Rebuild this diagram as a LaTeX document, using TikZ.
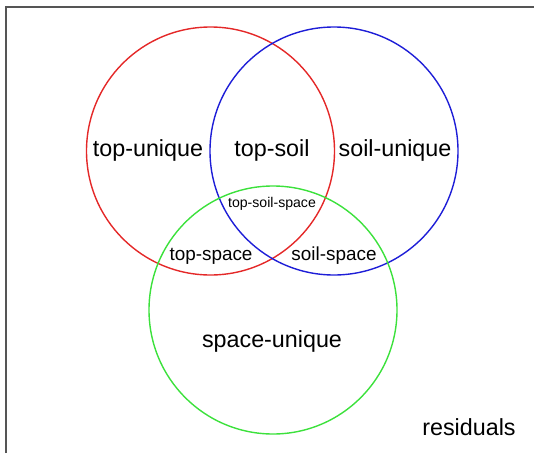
\documentclass[tikz,border=0pt]{standalone}
\usepackage{fontspec}
\setmainfont{Liberation Sans}
\usetikzlibrary{positioning, shapes}
\definecolor{setred}{RGB}{228,40,40}
\definecolor{setblue}{RGB}{30,30,215}
\definecolor{setgreen}{RGB}{60,225,60}
\definecolor{framegray}{RGB}{85,85,85}
\tikzstyle{setcircle} = [circle, minimum size=248pt, inner sep=0pt, line width=1.4pt]
\tikzstyle{biglabel} = [inner sep=0pt, font=\fontsize{23.3}{28}\selectfont]
\tikzstyle{midlabel} = [inner sep=0pt, font=\fontsize{18.9}{23}\selectfont]
\tikzstyle{smalllabel} = [inner sep=0pt, font=\fontsize{14.1}{17}\selectfont]
\begin{document}
\begin{tikzpicture}[x=1pt, y=-1pt]
        \useasboundingbox (0,0) rectangle (535,453);
        \draw [framegray, line width=2pt] (5.8,453) -- (5.8,6.8) -- (534,6.8);

        \node (top) [setcircle, draw=setred] at (210.5,151) {};
        \node (soil) [setcircle, draw=setblue] at (334,151) {};
        \node (space) [setcircle, draw=setgreen] at (273,310) {};

        \node (topunique) [biglabel] at (148,150) {top-unique};
        \node (topsoil) [biglabel] at (272,150) {top-soil};
        \node (soilunique) [biglabel] at (395,150) {soil-unique};
        \node (topsoilspace) [smalllabel] at (272,204) {top-soil-space};
        \node (topspace) [midlabel] at (211,256) {top-space};
        \node (soilspace) [midlabel] at (334,256) {soil-space};
        \node (spaceunique) [biglabel] at (272,341) {space-unique};
        \node (residuals) [biglabel] at (469,427) {residuals};
\end{tikzpicture}
\end{document}
